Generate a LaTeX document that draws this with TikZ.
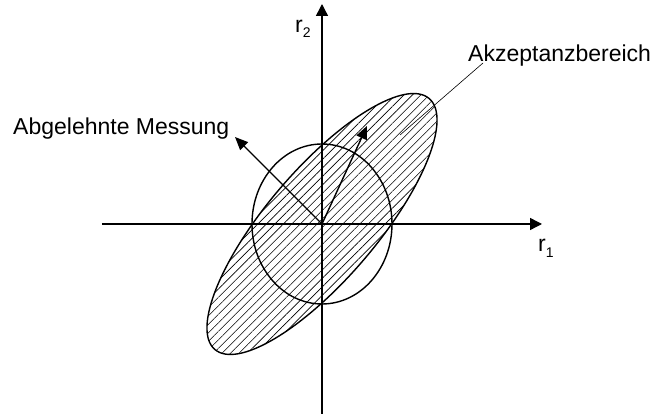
\documentclass[tikz,border=0pt]{standalone}
\usepackage{fontspec}
\setmainfont{Liberation Sans}
\usetikzlibrary{arrows.meta,patterns.meta}
\begin{document}
\begin{tikzpicture}[x=1pt,y=1pt,
  axis/.style={line width=1.4pt,-{Triangle[length=12pt,width=12pt]}},
  arr/.style={line width=1.4pt,-{Triangle[length=13pt,width=11pt]}},
  outline/.style={line width=1.4pt},
  lbl/.style={inner sep=0pt,anchor=base west,font=\fontsize{23}{27}\selectfont}]
\useasboundingbox (-322,-190) rectangle (329,224);
\coordinate (O) at (0,0);
% hatched acceptance region
\draw[outline,rotate=49.5,pattern={Lines[angle=45,distance=6pt,line width=0.6pt]}] (O) ellipse (165 and 55);
% circle
\draw[outline] (O) ellipse (70 and 80);
% axes
\coordinate (xl) at (-220,0);
\coordinate (xr) at (220,0);
\coordinate (yb) at (0,-190);
\coordinate (yt) at (0,220);
\draw[axis] (xl) -- (xr);
\draw[axis] (yb) -- (yt);
% vectors
\coordinate (rej) at (-87,87);
\coordinate (acc) at (45,98);
\draw[arr] (O) -- (rej);
\draw[arr] (O) -- (acc);
% leader line
\coordinate (ls) at (78,89);
\coordinate (le) at (161,161);
\draw[line width=0.6pt] (ls) -- (le);
% labels
\node[lbl] (akz) at (146,162) {Akzeptanzbereich};
\node[lbl] (abg) at (-309,89) {Abgelehnte Messung};
\node[lbl] (r2) at (-27,191) {r\raisebox{-5pt}{\fontsize{14}{14}\selectfont 2}};
\node[lbl] (r1) at (216,-28) {r\raisebox{-6pt}{\fontsize{14}{14}\selectfont 1}};
\end{tikzpicture}
\end{document}
